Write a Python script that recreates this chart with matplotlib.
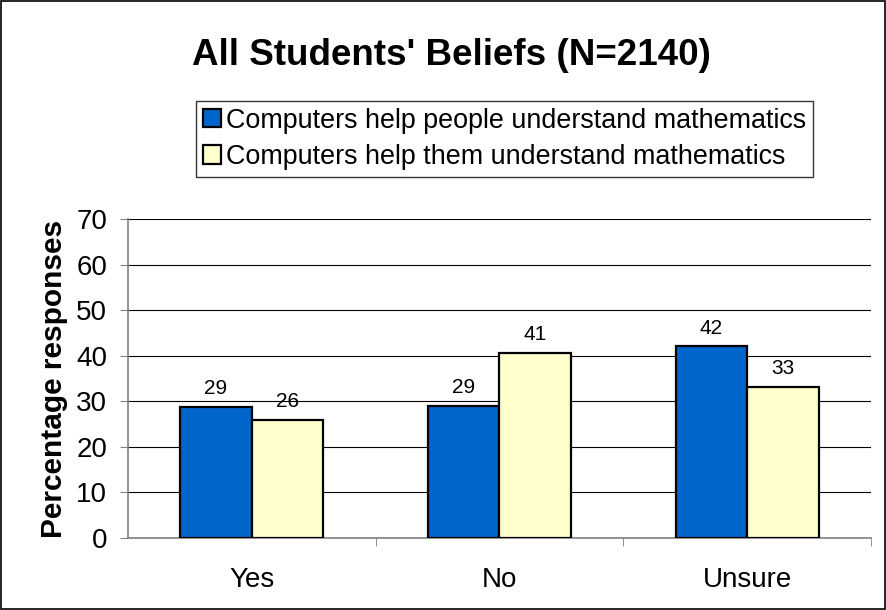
import matplotlib
matplotlib.use("Agg")
import matplotlib.pyplot as plt
import numpy as np

plt.rcParams['font.family'] = ['Liberation Sans', 'DejaVu Sans']

categories = ["Yes", "No", "Unsure"]
people_help = [28.8, 29.0, 42.1]
them_help = [26.0, 40.6, 33.2]
series_names = ["Computers help people understand mathematics",
                "Computers help them understand mathematics"]

W, H = 887, 610
fig = plt.figure(figsize=(W / 100, H / 100), dpi=100)
fig.patches.append(plt.Rectangle((0.001, 0.001), 0.997, 0.997, transform=fig.transFigure,
                                 fill=False, edgecolor='black', linewidth=1.2))
ax = fig.add_axes([128 / W, 1 - 538 / H, 743 / W, 319 / H])

x = np.arange(len(categories))
w = 0.289
b1 = ax.bar(x - w / 2, people_help, w, color='#0066cc', edgecolor='black', linewidth=1.6,
            label=series_names[0], zorder=3)
b2 = ax.bar(x + w / 2, them_help, w, color='#ffffcc', edgecolor='black', linewidth=1.6,
            label=series_names[1], zorder=3)

# value labels above each bar
for bars in (b1, b2):
    for rect in bars:
        h = rect.get_height()
        ax.annotate(f"{round(h)}", (rect.get_x() + rect.get_width() / 2, h),
                    xytext=(0, 9), textcoords='offset points',
                    ha='center', va='baseline', fontsize=15)

ax.set_xlim(-0.5, 2.5)
ax.set_ylim(0, 70)
ax.set_yticks(range(0, 71, 10))
ax.set_xticks(x)
ax.set_xticklabels(categories, fontsize=20)
ax.set_xticks([0.5, 1.5, 2.5], minor=True)
ax.tick_params(axis='x', which='major', length=0, pad=21)
ax.tick_params(axis='x', which='minor', length=6, color='#808080')
ax.tick_params(axis='y', labelsize=20, length=6, color='#808080', pad=9)
ax.yaxis.grid(True, color='black', linewidth=0.8, zorder=0)
ax.set_axisbelow(True)
for side in ('top', 'right'):
    ax.spines[side].set_visible(False)
ax.spines['left'].set_color('#808080')
ax.spines['bottom'].set_color('#808080')
ax.spines['left'].set_linewidth(1.2)
ax.spines['bottom'].set_linewidth(1.2)
ax.set_ylabel("Percentage responses", fontsize=21.5, fontweight='bold', labelpad=6)

fig.text(451.5 / W, 1 - 65 / H, "All Students' Beliefs (N=2140)", ha='center', va='baseline',
         fontsize=26.5, fontweight='bold')

leg = fig.legend(loc='upper left', bbox_to_anchor=(196 / W, 1 - 101 / H), fontsize=19.4,
                 frameon=True, fancybox=False, shadow=False, handlelength=0.67, handleheight=0.67,
                 handletextpad=0.2, borderpad=0.25, labelspacing=0.38, borderaxespad=0)
leg.get_frame().set_edgecolor('black')
leg.get_frame().set_linewidth(1.0)
for patch in leg.get_patches():
    patch.set_linewidth(1.6)

fig.savefig("out.png", dpi=100)
